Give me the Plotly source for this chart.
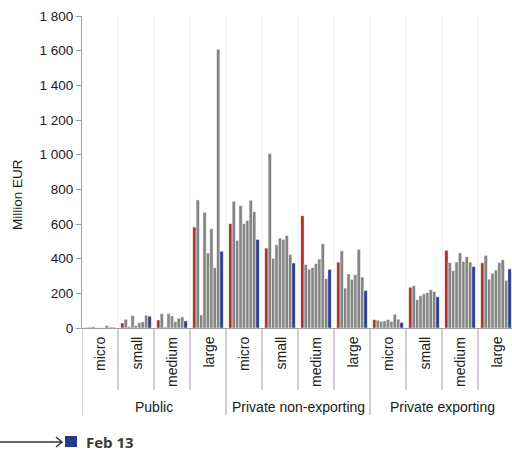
import plotly.graph_objects as go

# ---- data ----
groups = ["Public", "Private non-exporting", "Private exporting"]
sizes = ["micro", "small", "medium", "large"]
series_names = ["Jun 12", "Jul 12", "Aug 12", "Sep 12", "Oct 12", "Nov 12", "Dec 12", "Jan 13", "Feb 13"]

jun12 = [3, 29, 46, 582, 602, 461, 648, 380, 48, 235, 448, 376]
jul12 = [5, 50, 83, 739, 731, 1006, 366, 445, 45, 244, 378, 419]
aug12 = [8, 8, 6, 75, 505, 402, 339, 230, 38, 163, 331, 282]
sep12 = [2, 72, 83, 668, 706, 480, 349, 312, 41, 186, 381, 316]
oct12 = [1, 14, 70, 433, 602, 518, 372, 281, 49, 197, 433, 334]
nov12 = [1, 31, 37, 573, 621, 511, 398, 308, 38, 205, 384, 377]
dec12 = [14, 35, 56, 348, 737, 534, 486, 453, 79, 221, 411, 394]
jan13 = [5, 74, 64, 1608, 671, 424, 285, 294, 51, 211, 380, 275]
feb13 = [4, 68, 41, 443, 511, 375, 338, 216, 32, 180, 354, 341]

y_tickvals = [0, 200, 400, 600, 800, 1000, 1200, 1400, 1600, 1800]
y_ticktext = ["0", "200", "400", "600", "800", "1 000", "1 200", "1 400", "1 600", "1 800"]

series = [jun12, jul12, aug12, sep12, oct12, nov12, dec12, jan13, feb13]
RED, GRAY, BLUE = "#a3302a", "#858585", "#28398c"
colors = [RED] + [GRAY] * 7 + [BLUE]

W, H = 512, 456
ML, MT, MB = 82, 16, 128
PW = W - ML
PH = H - MT - MB
FONT = "Liberation Sans, Arial, sans-serif"

n_cat = len(groups) * len(sizes)
x_idx = list(range(n_cat))
cat_labels = [s for g in groups for s in sizes]

def px_x(px):
    return (px - ML) / PW

def px_y(py):
    return (H - MB - py) / PH

fig = go.Figure()
for name, vals, col in zip(series_names, series, colors):
    fig.add_trace(go.Bar(x=x_idx, y=vals, name=name, marker_color=col,
                         marker_line_color="white", marker_line_width=0.5,
                         showlegend=False))

shapes = []
# light vertical gridlines at category boundaries
for i in range(n_cat):
    shapes.append(dict(type="line", xref="x", yref="paper", x0=i + 0.5, x1=i + 0.5,
                       y0=0, y1=1, line=dict(color="#eeeeee", width=1), layer="below"))
# separators below axis between categories
for i in range(n_cat):
    b = i - 0.5
    if i % len(sizes) == 0:
        y1 = px_y(415)
    else:
        y1 = px_y(390)
    shapes.append(dict(type="line", xref="x", yref="paper", x0=b, x1=b,
                       y0=0, y1=y1, line=dict(color="#a0a0a0", width=1)))

annotations = []
for i, lab in enumerate(cat_labels):
    annotations.append(dict(x=i, y=px_y(335), xref="x", yref="paper", text=lab,
                            textangle=-90, showarrow=False, xanchor="center", yanchor="top",
                            font=dict(family=FONT, size=14, color="#1a1a1a")))
for gi, g in enumerate(groups):
    annotations.append(dict(x=gi * len(sizes) + (len(sizes) - 1) / 2, y=px_y(407),
                            xref="x", yref="paper", text=g, showarrow=False,
                            xanchor="center", yanchor="middle",
                            font=dict(family=FONT, size=14, color="#1a1a1a")))
# y axis title
annotations.append(dict(x=px_x(17), y=px_y(195), xref="paper", yref="paper",
                        text="Million EUR", textangle=-90, showarrow=False,
                        xanchor="center", yanchor="middle",
                        font=dict(family=FONT, size=13.5, color="#1a1a1a")))

# legend-like marker at bottom
shapes.append(dict(type="line", xref="paper", yref="paper", x0=px_x(0), x1=px_x(62),
                   y0=px_y(442), y1=px_y(442), line=dict(color="#333333", width=1.5)))
shapes.append(dict(type="path", xref="paper", yref="paper",
                   path="M %f %f L %f %f L %f %f" % (px_x(56), px_y(437), px_x(62), px_y(442), px_x(56), px_y(447)),
                   line=dict(color="#333333", width=1.5)))
shapes.append(dict(type="rect", xref="paper", yref="paper", x0=px_x(65), x1=px_x(77),
                   y0=px_y(447), y1=px_y(436), fillcolor=BLUE, line=dict(width=0)))
annotations.append(dict(x=px_x(84), y=px_y(442), xref="paper", yref="paper",
                        text="<b>" + series_names[-1] + "</b>", showarrow=False,
                        xanchor="left", yanchor="middle",
                        font=dict(family="Open Sans, sans-serif", size=15, color="#3a3a3a")))

fig.update_layout(
    width=W, height=H,
    margin=dict(l=ML, r=0, t=MT, b=MB, pad=0),
    paper_bgcolor="white", plot_bgcolor="white",
    barmode="group", bargap=0.15, bargroupgap=0,
    shapes=shapes, annotations=annotations,
    font=dict(family=FONT, size=13, color="#1a1a1a"),
    xaxis=dict(range=[-0.5, -0.5 + PW / 36.0], showticklabels=False, ticks="",
               showgrid=False, zeroline=False, showline=True, linecolor="#a0a0a0",
               linewidth=1),
    yaxis=dict(range=[0, 1800], tickvals=y_tickvals, ticktext=y_ticktext,
               showgrid=False, zeroline=False, showline=True, linecolor="#a0a0a0",
               linewidth=1, ticks="outside", ticklen=5, tickcolor="#a0a0a0",
               tickfont=dict(family=FONT, size=13.5, color="#1a1a1a")),
)

fig.write_html("out.html")
